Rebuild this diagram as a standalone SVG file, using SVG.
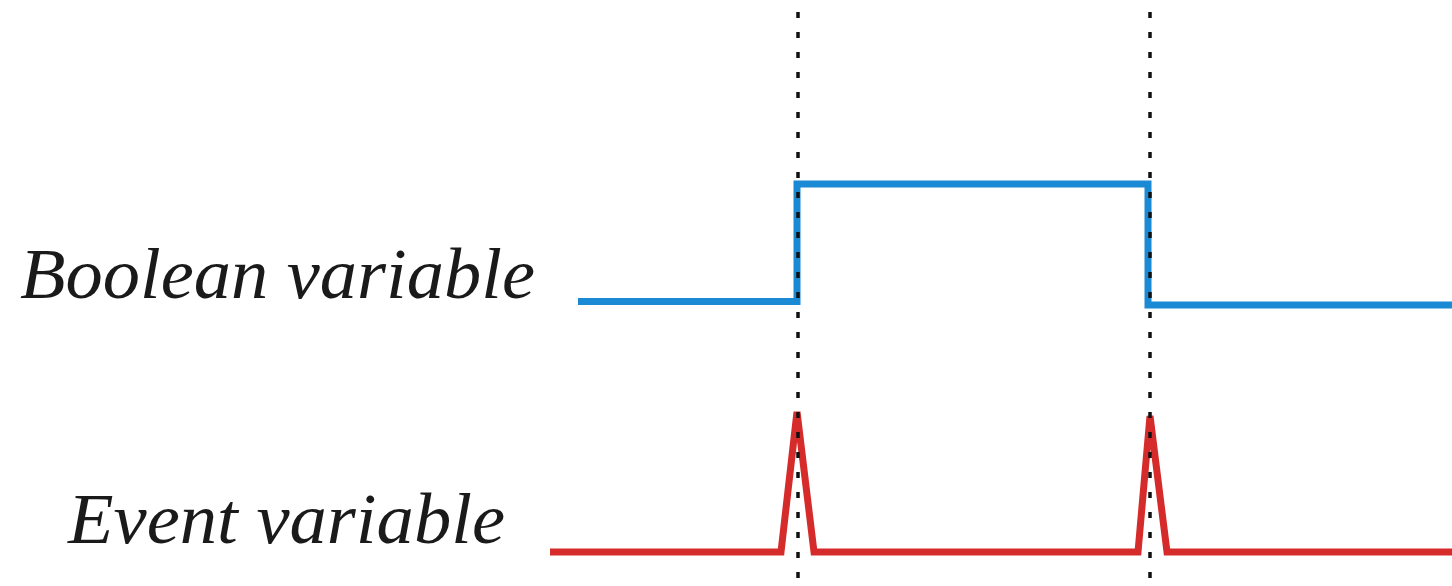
<svg xmlns="http://www.w3.org/2000/svg" width="1452" height="586" viewBox="0 0 1452 586">
<style>
.lbl{font-family:"Liberation Serif","Times New Roman",serif;font-style:italic;font-size:71px;fill:#1a1a1a}
.guide{stroke:#111;stroke-width:3.5;stroke-dasharray:6 14;fill:none}
.bool{stroke:#1a8ad4;stroke-width:7;fill:none;stroke-linejoin:miter}
.evt{stroke:#d52b2b;stroke-width:7;fill:none;stroke-linejoin:miter}
</style>
<rect width="1452" height="586" fill="#fff"/>
<g id="labels">
<text id="label-boolean" class="lbl" x="20" y="298" textLength="515" lengthAdjust="spacingAndGlyphs">Boolean variable</text>
<text id="label-event" class="lbl" x="68" y="543" textLength="437" lengthAdjust="spacingAndGlyphs">Event variable</text>
</g>
<g id="signals">
<path id="boolean-signal" class="bool" d="M578 301.5 H797 V184 H1148 V305 H1452"/>
<path id="event-signal" class="evt" d="M550 552 H781 L797 412 L814 552 H1138 L1150 416 L1167 552 H1452"/>
</g>
<g id="guides">
<line class="guide" x1="798" y1="12" x2="798" y2="586"/>
<line class="guide" x1="1150" y1="12" x2="1150" y2="586"/>
</g>
</svg>
